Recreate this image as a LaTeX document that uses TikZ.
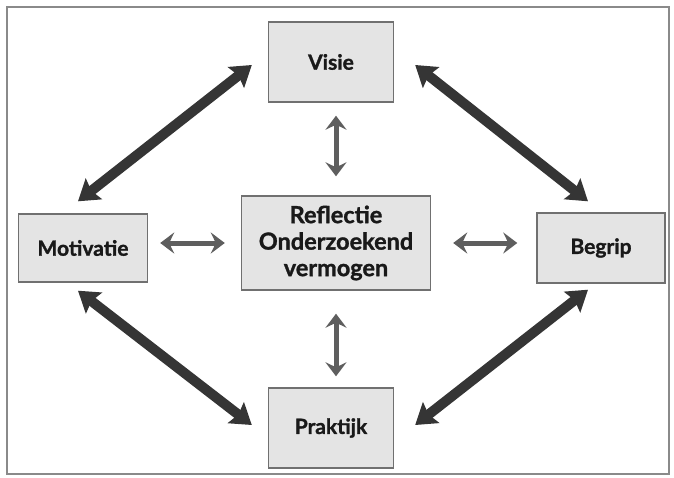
\documentclass[tikz,border=0pt]{standalone}
\usepackage{fontspec}
\setmainfont{Lato}[BoldFeatures={FakeBold=1.3}]
\usepackage{tikz}
\usetikzlibrary{arrows.meta,calc,positioning}
\definecolor{boxfill}{HTML}{E4E4E4}
\definecolor{boxline}{HTML}{707070}
\definecolor{darkarrow}{HTML}{353535}
\definecolor{lightarrow}{HTML}{5E5E5E}
\definecolor{framegray}{HTML}{8A8A8A}
\begin{document}
\begin{tikzpicture}[>=Stealth,x=1pt,y=-1pt,font=\bfseries\fontsize{21}{25}\selectfont]
\tikzstyle{box}=[draw=boxline,fill=boxfill,line width=1.4pt,align=center,text=black!90,inner sep=0pt]
\tikzstyle{bigarrow}=[{Stealth[length=20pt,width=26pt,inset=3pt]}-{Stealth[length=20pt,width=26pt,inset=3pt]},line width=10pt,draw=darkarrow]
\tikzstyle{smallarrow}=[{Stealth[length=14pt,width=21pt,inset=5pt]}-{Stealth[length=14pt,width=21pt,inset=5pt]},line width=5pt,draw=lightarrow]
\useasboundingbox (0,0) rectangle (674,477);
\draw[draw=framegray,line width=1.5pt] (7,7) rectangle (669,474);
\node[box,minimum width=125pt,minimum height=80pt] (visie) at (331,62) {Visie};
\node[box,minimum width=129pt,minimum height=68pt] (motiv) at (83,248) {Motivatie};
\node[box,minimum width=189pt,minimum height=94pt,font=\bfseries\fontsize{23.5}{26.5}\selectfont] (refl) at (336,243) {Reflectie\\Onderzoekend\\vermogen};
\node[box,minimum width=128pt,minimum height=70pt] (begrip) at (601,248) {Begrip};
\node[box,minimum width=125pt,minimum height=80pt] (prakt) at (331,428) {Praktijk};
\draw[bigarrow] ([xshift=-5pt,yshift=12pt]motiv.north) -- ([xshift=-16pt,yshift=-3pt]visie.west);
\draw[bigarrow] ([xshift=21pt,yshift=-3pt]visie.east) -- ([xshift=-13pt,yshift=11pt]begrip.north);
\draw[bigarrow] ([xshift=-5pt,yshift=-8pt]motiv.south) -- ([xshift=-16pt,yshift=3pt]prakt.west);
\draw[bigarrow] ([xshift=21pt,yshift=3pt]prakt.east) -- ([xshift=-13pt,yshift=-6pt]begrip.south);
\draw[smallarrow,shorten <=19pt,shorten >=13pt] (refl.north) -- (refl.north |- visie.south);
\draw[smallarrow,shorten <=23pt,shorten >=11pt] (refl.south) -- (refl.south |- prakt.north);
\draw[smallarrow,shorten <=16pt,shorten >=12pt] (refl.west) -- (refl.west -| motiv.east);
\draw[smallarrow,shorten <=22pt,shorten >=19pt] (refl.east) -- (refl.east -| begrip.west);
\end{tikzpicture}
\end{document}
